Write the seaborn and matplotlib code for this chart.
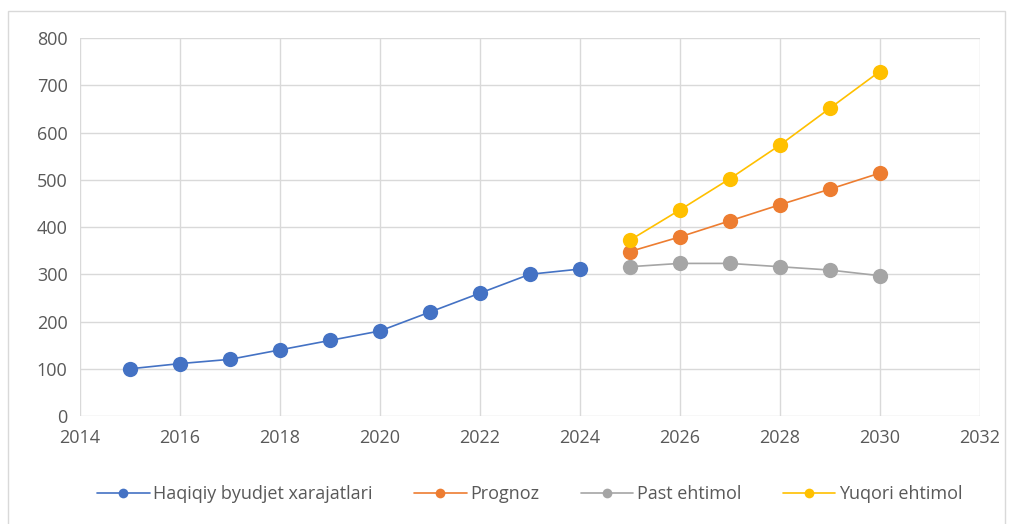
import pandas as pd
import matplotlib
matplotlib.use('Agg')
import matplotlib.pyplot as plt
import seaborn as sns
from matplotlib.patches import Rectangle

# haqiqiy xarajatlar
years_actual = [2015, 2016, 2017, 2018, 2019, 2020, 2021, 2022, 2023, 2024]
actual = [100, 111, 120, 140, 160, 180, 220, 260, 300, 311]

# prognoz davri
years_fc = [2025, 2026, 2027, 2028, 2029, 2030]
prognoz = [348, 379, 413, 447, 480, 514]
past = [316, 323, 323, 316, 309, 297]
yuqori = [372, 436, 502, 573, 651, 729]

names = ['Haqiqiy byudjet xarajatlari', 'Prognoz', 'Past ehtimol', 'Yuqori ehtimol']
colors = ['#4472C4', '#ED7D31', '#A5A5A5', '#FFC000']

df = pd.concat([
    pd.DataFrame({'year': years_actual, 'value': actual, 'series': names[0]}),
    pd.DataFrame({'year': years_fc, 'value': prognoz, 'series': names[1]}),
    pd.DataFrame({'year': years_fc, 'value': past, 'series': names[2]}),
    pd.DataFrame({'year': years_fc, 'value': yuqori, 'series': names[3]}),
])

sns.set_style('white')
plt.rcParams['font.family'] = ['Open Sans', 'DejaVu Sans']

fig = plt.figure(figsize=(10.13, 5.24), dpi=100)
ax = fig.add_axes([0.079, 0.206, 0.888, 0.7215])

sns.lineplot(data=df, x='year', y='value', hue='series', hue_order=names,
             palette=colors, marker='o', markersize=11, markeredgewidth=0,
             linewidth=1.2, ax=ax)

ax.set_xlim(2014, 2032)
ax.set_ylim(0, 800)
ax.set_xticks(range(2014, 2033, 2))
ax.set_yticks(range(0, 801, 100))
ax.grid(True, color='#D9D9D9', linewidth=1)
ax.set_axisbelow(True)
for s in ax.spines.values():
    s.set_visible(False)
ax.tick_params(length=0, labelsize=13, labelcolor='#595959', pad=9)
ax.set_xlabel('')
ax.set_ylabel('')

handles, labels = ax.get_legend_handles_labels()
leg = ax.legend(handles, labels, loc='upper center', bbox_to_anchor=(0.5, -0.14),
                ncol=4, frameon=False, fontsize=13, labelcolor='#595959',
                handlelength=2.9, columnspacing=2.3, handletextpad=0.2)
for h in leg.legend_handles:
    h.set_markersize(7)

fig.patches.append(Rectangle((8 / 1013, -10 / 524), 997 / 1013, 523 / 524,
                             transform=fig.transFigure, fill=False,
                             edgecolor='#D9D9D9', linewidth=1))

fig.savefig('out.png', dpi=100)
